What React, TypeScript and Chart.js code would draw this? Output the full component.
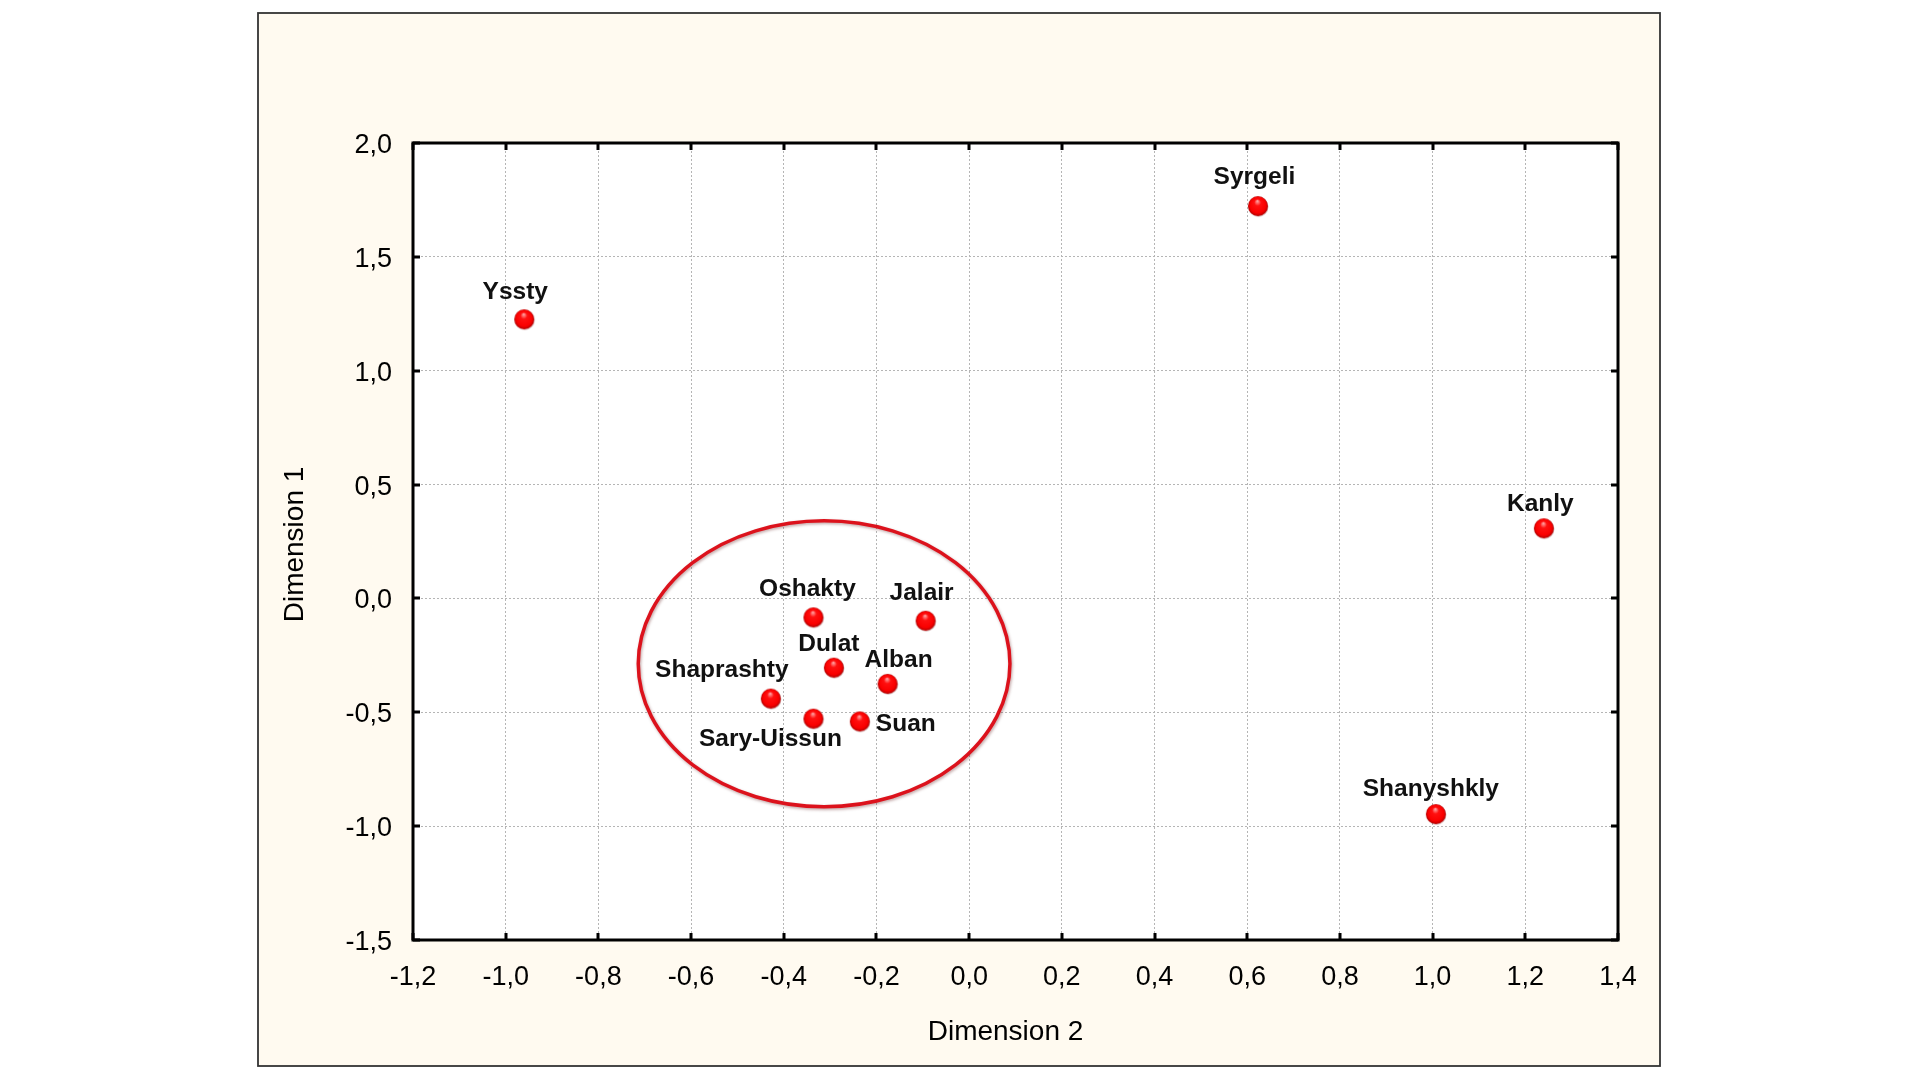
import React, { useEffect, useRef } from 'react';
import { Chart, registerables } from 'chart.js';

Chart.register(...registerables);

// ---- Data ----
const groupNames = ['Yssty', 'Syrgeli', 'Kanly', 'Shanyshkly', 'Oshakty', 'Jalair', 'Dulat', 'Alban', 'Shaprashty', 'Sary-Uissun', 'Suan'];
const dimension2Values = [-0.96, 0.623, 1.24, 1.007, -0.336, -0.094, -0.292, -0.176, -0.428, -0.336, -0.236];
const dimension1Values = [1.226, 1.723, 0.308, -0.947, -0.083, -0.098, -0.304, -0.375, -0.44, -0.528, -0.54];
const xTickValues = [-1.2, -1.0, -0.8, -0.6, -0.4, -0.2, 0.0, 0.2, 0.4, 0.6, 0.8, 1.0, 1.2, 1.4];
const yTickValues = [-1.5, -1.0, -0.5, 0.0, 0.5, 1.0, 1.5, 2.0];
const clusterCenter = [-0.313, -0.287];
const clusterRadii = [0.401, 0.628];
const xTitle = 'Dimension 2';
const yTitle = 'Dimension 1';

// ---- Layout of point labels (pixel offsets of the label centre from its point) ----
const labelOffsets: [number, number][] = [
  [-9, -27.5], [-3.5, -29], [-3.5, -24.5], [-5, -25], [-6, -28], [-4, -27],
  [-5, -23.5], [11, -24], [-49, -28], [-43, 21], [46, 2.5],
];

const FONT_FAMILY = 'Arial, "Liberation Sans", sans-serif';

const fmt = (v: number) => {
  const s = Math.abs(v) < 1e-9 ? '0.0' : v.toFixed(1);
  return s.replace('.', ',');
};

function makeSphere(): HTMLCanvasElement {
  const c = document.createElement('canvas');
  const size = 24;
  c.width = size;
  c.height = size;
  const g = c.getContext('2d')!;
  const cx = size / 2, cy = size / 2, r = 10;
  g.beginPath();
  g.arc(cx + 0.5, cy + 0.8, r, 0, Math.PI * 2);
  g.fillStyle = 'rgba(110,0,0,0.3)';
  g.fill();
  const grad = g.createRadialGradient(cx - 0.5, cy - 5, 0.5, cx, cy, r);
  grad.addColorStop(0, '#ff9c9c');
  grad.addColorStop(0.3, '#ff1010');
  grad.addColorStop(0.78, '#fa0000');
  grad.addColorStop(1, '#b20000');
  g.beginPath();
  g.arc(cx, cy, r, 0, Math.PI * 2);
  g.fillStyle = grad;
  g.fill();
  return c;
}

const backgroundPlugin = {
  id: 'frameBackground',
  beforeDraw(chart: any) {
    const { ctx, chartArea } = chart;
    ctx.save();
    ctx.fillStyle = '#ffffff';
    ctx.fillRect(0, 0, chart.width, chart.height);
    ctx.fillStyle = '#fffaf0';
    ctx.fillRect(258, 13, 1402, 1053);
    ctx.strokeStyle = '#333333';
    ctx.lineWidth = 1.8;
    ctx.strokeRect(258, 13, 1402, 1053);
    ctx.fillStyle = '#ffffff';
    ctx.fillRect(chartArea.left, chartArea.top, chartArea.right - chartArea.left, chartArea.bottom - chartArea.top);
    ctx.restore();
  },
};

const overlayPlugin = {
  id: 'overlay',
  afterDatasetsDraw(chart: any) {
    const { ctx, scales } = chart;
    const xs = scales.x, ys = scales.y;
    const cx = xs.getPixelForValue(clusterCenter[0]);
    const cy = ys.getPixelForValue(clusterCenter[1]);
    const rx = Math.abs(xs.getPixelForValue(clusterCenter[0] + clusterRadii[0]) - cx);
    const ry = Math.abs(ys.getPixelForValue(clusterCenter[1] + clusterRadii[1]) - cy);
    ctx.save();
    ctx.shadowColor = 'rgba(80,0,0,0.35)';
    ctx.shadowBlur = 3;
    ctx.shadowOffsetX = 1;
    ctx.shadowOffsetY = 1.5;
    ctx.strokeStyle = '#dc121c';
    ctx.lineWidth = 3.5;
    ctx.beginPath();
    ctx.ellipse(cx, cy, rx, ry, 0, 0, Math.PI * 2);
    ctx.stroke();
    ctx.restore();

    const meta = chart.getDatasetMeta(0);
    ctx.save();
    ctx.font = `bold 24.5px ${FONT_FAMILY}`;
    ctx.fillStyle = '#111111';
    ctx.textAlign = 'center';
    ctx.textBaseline = 'middle';
    meta.data.forEach((el: any, i: number) => {
      const off = labelOffsets[i] || [0, -28];
      ctx.fillText(groupNames[i], el.x + off[0], el.y + off[1]);
    });
    ctx.restore();
  },
  afterDraw(chart: any) {
    const { ctx, chartArea, scales } = chart;
    const { left, right, top, bottom } = chartArea;
    ctx.save();
    ctx.strokeStyle = '#000000';
    ctx.lineWidth = 3;
    const tl = 7;
    ctx.beginPath();
    xTickValues.forEach((v) => {
      const px = Math.round(scales.x.getPixelForValue(v));
      ctx.moveTo(px, bottom);
      ctx.lineTo(px, bottom - tl);
      ctx.moveTo(px, top);
      ctx.lineTo(px, top + tl);
    });
    yTickValues.forEach((v) => {
      const py = Math.round(scales.y.getPixelForValue(v));
      ctx.moveTo(left, py);
      ctx.lineTo(left + tl, py);
      ctx.moveTo(right, py);
      ctx.lineTo(right - tl, py);
    });
    ctx.stroke();
    ctx.strokeRect(left, top, right - left, bottom - top);

    // axis titles
    ctx.fillStyle = '#000000';
    ctx.font = `28px ${FONT_FAMILY}`;
    ctx.textAlign = 'center';
    ctx.textBaseline = 'middle';
    ctx.fillText(xTitle, (left + right) / 2 - 10, bottom + 92);
    ctx.save();
    ctx.translate(295, (top + bottom) / 2 + 3);
    ctx.rotate(-Math.PI / 2);
    ctx.fillText(yTitle, 0, 0);
    ctx.restore();
    ctx.restore();
  },
};

export default function App() {
  const canvasRef = useRef<HTMLCanvasElement | null>(null);

  useEffect(() => {
    const canvas = canvasRef.current;
    if (!canvas) return;
    const sphere = makeSphere();
    const tickFont = { family: FONT_FAMILY, size: 27 };
    const chart = new Chart(canvas, {
      type: 'scatter',
      data: {
        datasets: [
          {
            label: 'Groups',
            data: dimension2Values.map((x, i) => ({ x, y: dimension1Values[i] })),
            pointStyle: sphere as any,
            pointRadius: 10,
            pointHoverRadius: 10,
            backgroundColor: '#ff0000',
            borderColor: '#ff0000',
          },
        ],
      },
      options: {
        responsive: false,
        animation: false,
        devicePixelRatio: 1,
        events: [],
        layout: { padding: { left: 278, top: 143, right: 302, bottom: 32 } },
        plugins: {
          legend: { display: false },
          tooltip: { enabled: false },
          title: { display: false },
        },
        scales: {
          x: {
            type: 'linear',
            min: -1.2,
            max: 1.4,
            afterBuildTicks: (scale: any) => {
              scale.ticks = xTickValues.map((v) => ({ value: v }));
            },
            afterFit: (scale: any) => {
              scale.height = 108;
            },
            ticks: {
              autoSkip: false,
              maxRotation: 0,
              minRotation: 0,
              padding: 21.5,
              color: '#000000',
              font: tickFont,
              callback: (v: any) => fmt(Number(v)),
            },
            grid: {
              color: '#b5b5b5',
              lineWidth: 1,
              drawTicks: false,
            },
            border: { display: false, dash: [2, 2] },
            title: { display: false, text: xTitle },
          },
          y: {
            type: 'linear',
            min: -1.5,
            max: 2.0,
            afterBuildTicks: (scale: any) => {
              scale.ticks = yTickValues.map((v) => ({ value: v }));
            },
            afterFit: (scale: any) => {
              scale.width = 135;
            },
            ticks: {
              autoSkip: false,
              padding: 21,
              labelOffset: 2.5,
              color: '#000000',
              font: tickFont,
              callback: (v: any) => fmt(Number(v)),
            },
            grid: {
              color: '#b5b5b5',
              lineWidth: 1,
              drawTicks: false,
            },
            border: { display: false, dash: [2, 2] },
            title: { display: false, text: yTitle },
          },
        },
      },
      plugins: [backgroundPlugin, overlayPlugin],
    });
    return () => chart.destroy();
  }, []);

  return (
    <div style={{ position: 'absolute', left: 0, top: 0, width: 1920, height: 1080 }}>
      <canvas ref={canvasRef} width={1920} height={1080} style={{ display: 'block', width: 1920, height: 1080 }} />
    </div>
  );
}
